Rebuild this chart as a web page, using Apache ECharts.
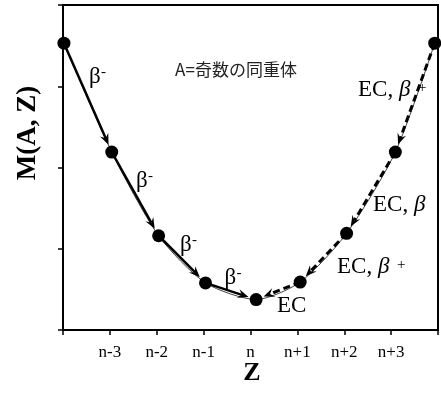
<!DOCTYPE html>
<html>
<head>
<meta charset="utf-8">
<script src="https://cdn.jsdelivr.net/npm/echarts@6/dist/echarts.min.js"></script>
<style>html,body{margin:0;padding:0;background:#fff;}#c{width:441px;height:401px;}</style>
</head>
<body>
<div id="c"></div>
<script>
// Data
const zTickLabels = ['', 'n-3', 'n-2', 'n-1', 'n', 'n+1', 'n+2', 'n+3', ''];
const zValues = [0.02, 1.04, 2.04, 3.04, 4.12, 5.06, 6.05, 7.09, 7.93];
const massValues = [3.53, 2.19, 1.16, 0.58, 0.375, 0.59, 1.19, 2.19, 3.53];
const betaMinusArrows = [[0, 1], [1, 2], [2, 3], [3, 4]];
const ecArrows = [[8, 7], [7, 6], [6, 5], [5, 4]];

const SERIF = '"Liberation Serif", "Times New Roman", serif';
const points = zValues.map((z, i) => [z, massValues[i]]);
const arrowData = betaMinusArrows.map(p => [zValues[p[0]], massValues[p[0]], zValues[p[1]], massValues[p[1]], 0])
  .concat(ecArrows.map(p => [zValues[p[0]], massValues[p[0]], zValues[p[1]], massValues[p[1]], 1]));

function renderArrow(params, api) {
  const p0 = api.coord([api.value(0), api.value(1)]);
  const p1 = api.coord([api.value(2), api.value(3)]);
  const dashed = api.value(4) === 1;
  const dx = p1[0] - p0[0], dy = p1[1] - p0[1];
  const len = Math.sqrt(dx * dx + dy * dy);
  const ux = dx / len, uy = dy / len;
  const nx = -uy, ny = ux;
  const tip = [p1[0] - ux * 8, p1[1] - uy * 8];
  const base = [tip[0] - ux * 11, tip[1] - uy * 11];
  const notch = [tip[0] - ux * 7, tip[1] - uy * 7];
  const hw = 4.5;
  return {
    type: 'group',
    children: [
      {
        type: 'line',
        shape: { x1: p0[0], y1: p0[1], x2: notch[0], y2: notch[1] },
        style: { stroke: '#000', lineWidth: dashed ? 3 : 2.5, lineDash: dashed ? [7, 4] : null }
      },
      {
        type: 'polygon',
        shape: { points: [tip, [base[0] + nx * hw, base[1] + ny * hw], notch, [base[0] - nx * hw, base[1] - ny * hw]] },
        style: { fill: '#000' }
      }
    ]
  };
}

function betaLabel(x, y) {
  return {
    type: 'group', x: x, y: y,
    children: [
      { type: 'text', x: 0, y: 0, style: { text: 'β', font: '23px ' + SERIF, verticalAlign: 'middle', fill: '#000' } },
      { type: 'text', x: 12, y: -5, style: { text: '-', font: '15px ' + SERIF, verticalAlign: 'middle', fill: '#000' } }
    ]
  };
}
function ecLabel(x, y, withPlus) {
  const children = [
    { type: 'text', x: 0, y: 0, style: { text: 'EC,', font: '23px ' + SERIF, verticalAlign: 'middle', fill: '#000' } },
    { type: 'text', x: 41, y: 0, style: { text: 'β', font: 'italic 23px ' + SERIF, verticalAlign: 'middle', fill: '#000' } }
  ];
  if (withPlus) {
    children.push({ type: 'text', x: 60, y: -2, style: { text: '+', font: '15px ' + SERIF, verticalAlign: 'middle', fill: '#000' } });
  }
  return { type: 'group', x: x, y: y, children: children };
}

const chart = echarts.init(document.getElementById('c'));
chart.setOption({
  animation: false,
  grid: { left: 63, top: 5, width: 376, height: 325, show: true, borderColor: '#000', borderWidth: 2 },
  xAxis: {
    type: 'value', min: 0, max: 8, interval: 1,
    axisLine: { lineStyle: { color: '#000', width: 2 } },
    axisTick: { length: 5, lineStyle: { color: '#000', width: 1.5 } },
    splitLine: { show: false },
    axisLabel: {
      formatter: v => zTickLabels[Math.round(v)],
      color: '#000', fontFamily: SERIF, fontSize: 17, margin: 14
    }
  },
  yAxis: {
    type: 'value', min: 0, max: 4, interval: 1,
    axisLine: { show: true, lineStyle: { color: '#000', width: 2 } },
    axisTick: { show: true, length: 5, lineStyle: { color: '#000', width: 1.5 } },
    splitLine: { show: false },
    axisLabel: { show: false }
  },
  series: [
    {
      type: 'line', data: points, smooth: 0.25, symbol: 'none', z: 1,
      lineStyle: { color: '#444', width: 1 }
    },
    {
      type: 'scatter', data: points, symbolSize: 13, z: 2,
      itemStyle: { color: '#000', opacity: 1 }
    },
    {
      type: 'custom', data: arrowData, renderItem: renderArrow, z: 3, clip: false,
      encode: { x: [0, 2], y: [1, 3] }
    }
  ],
  graphic: [
    {
      type: 'text', x: 28, y: 133, rotation: Math.PI / 2,
      style: { text: 'M(A, Z)', font: 'bold 27px ' + SERIF, align: 'center', verticalAlign: 'middle', fill: '#000' }
    },
    {
      type: 'text', x: 252, y: 373,
      style: { text: 'Z', font: 'bold 26px ' + SERIF, align: 'center', verticalAlign: 'middle', fill: '#000' }
    },
    {
      type: 'text', x: 236, y: 70,
      style: { text: 'A=奇数の同重体', font: '17px "Noto Sans CJK JP"', align: 'center', verticalAlign: 'middle', fill: '#222' }
    },
    betaLabel(89, 77),
    betaLabel(136, 181),
    betaLabel(180, 245),
    betaLabel(224.5, 278),
    {
      type: 'text', x: 277, y: 306,
      style: { text: 'EC', font: '23px ' + SERIF, verticalAlign: 'middle', fill: '#000' }
    },
    ecLabel(337, 267, true),
    ecLabel(373, 205, false),
    ecLabel(358, 90, true)
  ]
});
</script>
</body>
</html>
